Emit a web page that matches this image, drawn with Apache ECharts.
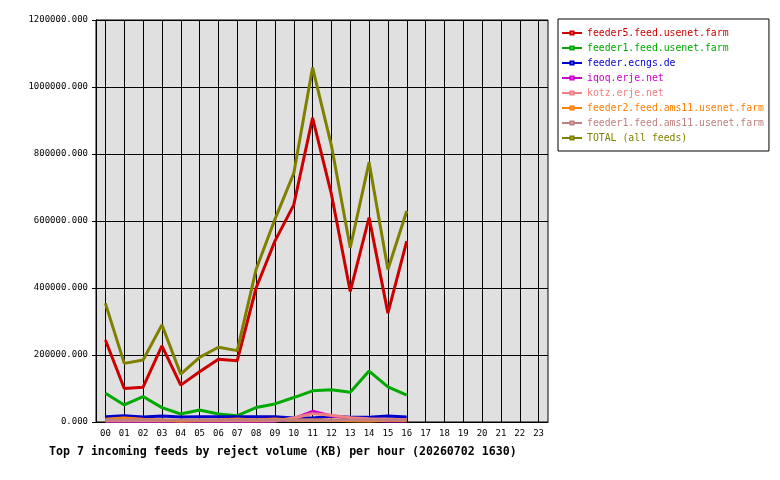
<!DOCTYPE html>
<html>
<head>
<meta charset="utf-8">
<title>Top 7 incoming feeds by reject volume</title>
<script src="https://cdn.jsdelivr.net/npm/echarts@6/dist/echarts.min.js"></script>
<style>
  html, body { margin: 0; padding: 0; background: #fff; }
  #chart { width: 780px; height: 480px; }
</style>
</head>
<body>
<div id="chart"></div>
<script>
// hours on the x axis
const hours = ['00','01','02','03','04','05','06','07','08','09','10','11',
               '12','13','14','15','16','17','18','19','20','21','22','23'];

// reject volume (KB) per hour
const feeder5 = [245000, 100000, 104000, 227000, 110000, 150000, 187000, 183000, 400000,
                 540000, 648000, 908000, 680000, 390000, 610000, 325000, 540000];
const feeder1 = [86000, 51000, 76000, 43000, 24000, 36000, 24000, 19000, 43000,
                 54000, 73000, 93000, 96000, 89000, 152000, 105000, 80000];
const ecngs = [16000, 19000, 15000, 18000, 15000, 16000, 16000, 16000, 16000,
               16000, 12000, 12000, 17000, 14000, 14000, 18000, 15000];
const iqoq = [2000, 2000, 2000, 2000, 2000, 2000, 2000, 2000, 2000,
              3000, 10000, 32000, 18000, 12000, 5000, 3000, 3000];
const kotz = [4000, 4000, 4000, 4000, 4000, 4000, 4000, 4000, 4000,
              4000, 12000, 25000, 20000, 13000, 10000, 8000, 5000];
const feeder2ams = [8000, 12000, 8000, 6000, 3000, 5000, 6000, 9000, 6000,
                    9000, 5000, 6000, 5000, 4000, 3000, 5000, 5000];
const feeder1ams = [6000, 6000, 6000, 6000, 6000, 6000, 6000, 6000, 6000,
                    6000, 6000, 6000, 6000, 6000, 6000, 6000, 6000];
const total = [354000, 175000, 185000, 290000, 143000, 193000, 223000, 213000, 455000,
               605000, 742000, 1058000, 825000, 520000, 775000, 455000, 630000];

const feeds = [
  { name: 'feeder5.feed.usenet.farm', color: '#cc0000', data: feeder5 },
  { name: 'feeder1.feed.usenet.farm', color: '#00aa00', data: feeder1 },
  { name: 'feeder.ecngs.de', color: '#0000cc', data: ecngs },
  { name: 'iqoq.erje.net', color: '#cc00cc', data: iqoq },
  { name: 'kotz.erje.net', color: '#f08080', data: kotz },
  { name: 'feeder2.feed.ams11.usenet.farm', color: '#ff8000', data: feeder2ams },
  { name: 'feeder1.feed.ams11.usenet.farm', color: '#c08080', data: feeder1ams },
  { name: 'TOTAL (all feeds)', color: '#808000', data: total }
];

const mono = '"DejaVu Sans Mono", "Liberation Mono", monospace';

const chart = echarts.init(document.getElementById('chart'));

const option = {
  animation: false,
  backgroundColor: '#fff',
  title: {
    text: 'Top 7 incoming feeds by reject volume (KB) per hour (20260702 1630)',
    left: 44,
    top: 441,
    textStyle: { fontFamily: mono, fontSize: 11.6, fontWeight: 'bold', color: '#000' }
  },
  legend: {
    orient: 'vertical',
    left: 558,
    top: 19,
    padding: [9, 5, 8, 3],
    backgroundColor: '#fff',
    borderColor: '#000',
    borderWidth: 1,
    itemWidth: 20,
    itemHeight: 4,
    itemGap: 5,
    selectedMode: false,
    textStyle: { fontFamily: mono, fontSize: 9.8 },
    data: feeds.map(f => ({ name: f.name, textStyle: { color: f.color } }))
  },
  grid: {
    left: 96,
    top: 20,
    width: 452,
    height: 402,
    show: true,
    backgroundColor: '#e0e0e0',
    borderColor: '#000',
    borderWidth: 1
  },
  xAxis: {
    type: 'category',
    data: hours,
    boundaryGap: true,
    axisLine: { lineStyle: { color: '#000', width: 1 } },
    axisTick: { alignWithLabel: true, length: 4, lineStyle: { color: '#000' } },
    axisLabel: { fontFamily: mono, fontSize: 9, color: '#000', margin: 7 },
    splitLine: { show: true, alignWithLabel: true, lineStyle: { color: '#000', width: 1 } }
  },
  yAxis: {
    type: 'value',
    min: 0,
    max: 1200000,
    interval: 200000,
    axisLine: { show: true, lineStyle: { color: '#000', width: 1 } },
    axisTick: { show: true, length: 4, lineStyle: { color: '#000' } },
    axisLabel: {
      fontFamily: mono, fontSize: 9, color: '#000', margin: 8,
      formatter: v => v.toFixed(3)
    },
    splitLine: { lineStyle: { color: '#000', width: 1 } }
  },
  series: feeds.map(f => ({
    name: f.name,
    type: 'line',
    data: f.data,
    color: f.color,
    symbol: 'emptyRect',
    symbolSize: 4,
    showSymbol: false,
    lineStyle: { width: 3, color: f.color },
    emphasis: { disabled: true }
  }))
};

chart.setOption(option);
</script>
</body>
</html>
